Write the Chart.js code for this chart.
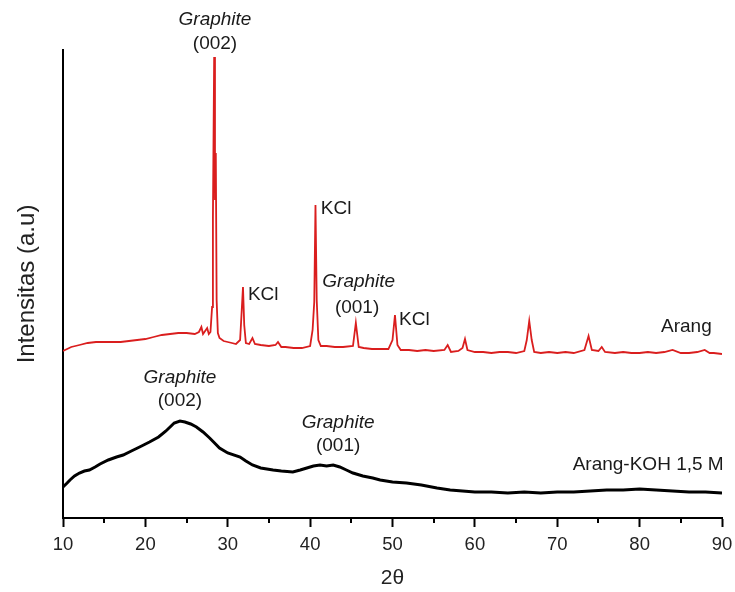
<!DOCTYPE html>
<html>
<head>
<meta charset="utf-8">
<script src="https://cdn.jsdelivr.net/npm/chart.js@4"></script>
<style>
  body { margin: 0; background: #fff; }
</style>
</head>
<body>
<canvas id="xrd" width="735" height="592"></canvas>
<script>
// Arang (red, offset trace)
const arangX = [10, 10.5, 11, 12, 13, 14, 15, 16, 17, 18, 19, 20, 21, 22, 23, 24, 25, 26, 26.5, 26.8, 27, 27.5, 27.7, 27.9,
  28.1, 28.2, 28.35, 28.45, 28.55, 28.65, 28.8, 29, 29.5, 30, 30.5, 31, 31.5, 31.7, 31.85, 32, 32.2, 32.6, 33, 33.3,
  34, 35, 35.8, 36.1, 36.5, 37, 38, 39, 40, 40.3, 40.5, 40.65, 40.8, 41, 41.3, 42, 43, 44, 45.2, 45.55, 45.9, 46.5,
  47.5, 48.5, 49.5, 50, 50.3, 50.6, 51, 52, 53, 54, 55, 56.3, 56.7, 57.1, 58, 58.5, 58.8, 59.1, 60, 61, 62, 63, 64,
  65, 66, 66.3, 66.6, 66.9, 67.2, 68, 69, 70, 71, 72, 73.3, 73.8, 74.2, 75, 75.4, 75.8, 77, 78, 79, 80, 81, 82, 83,
  84, 85, 86, 87, 87.9, 88.5, 89, 90];
const arangY = [167, 169, 171, 173, 175, 176, 176, 176, 176, 177, 178, 179, 181, 183, 184, 185, 185, 184, 186, 191, 184, 190, 184, 186,
  211, 300, 461, 318, 365, 218, 185, 180, 177, 176, 175, 174, 178, 208, 231, 193, 175, 174, 180, 174,
  173, 172, 173, 176, 171, 171, 170, 170, 172, 188, 216, 313, 218, 178, 172, 172, 171, 171, 172, 195, 171, 170,
  169, 169, 169, 178, 203, 173, 168, 168, 167, 168, 167, 168, 173, 166, 167, 170, 179, 168, 166, 166, 165, 166, 166,
  165, 167, 178, 197, 178, 166, 165, 166, 165, 166, 165, 168, 182, 168, 167, 171, 166, 165, 166, 165, 165, 166, 165, 166,
  168, 165, 165, 166, 168, 165, 165, 164];

// Arang-KOH 1,5 M (black trace)
const kohX = [10, 10.5, 10.85, 11.4, 12, 12.6, 13.2, 13.9, 14.5, 15.5, 16.5, 17.3, 18.3, 19.3, 20.5, 21.6, 22.5, 23.5,
  24.2, 24.8, 25.5, 26.2, 27, 27.8, 28.4, 29, 30, 31.5, 32.2, 33, 34, 35.5, 36.5, 37.9, 38.8, 39.6, 40.4, 41.2, 42,
  42.8, 43.6, 44.4, 45.2, 46.4, 47.6, 48.5, 50, 51.7, 53.5, 55.4, 57, 58.5, 60, 62, 64, 66, 68, 70, 72, 74, 76, 78,
  80, 82, 84, 86, 88, 90];
const kohY = [31, 35, 38, 42, 45, 47, 48, 51, 54, 58, 61, 63, 67, 71, 76, 81, 87, 95,
  97, 96, 94, 91, 86, 80, 75, 70, 65, 61, 57, 53, 50, 48, 47, 46, 48, 50, 52, 53, 52,
  53, 51, 48, 45, 42, 40, 38, 36, 35, 33, 30, 28, 27, 26, 26, 25, 26, 25, 26, 26, 27, 28, 28,
  29, 28, 27, 26, 26, 25];

const xTicks = [10, 20, 30, 40, 50, 60, 70, 80, 90];
const xMinorTicks = [15, 25, 35, 45, 55, 65, 75, 85];

// peak labels: [text, x, y, align, italic]
const peakLabels = [
  ['Graphite', 28.45, 498, 'center', true],
  ['(002)', 28.45, 474, 'center', false],
  ['KCl', 32.45, 223, 'left', false],
  ['KCl', 41.3, 309, 'left', false],
  ['Graphite', 45.9, 236, 'center', true],
  ['(001)', 45.7, 210, 'center', false],
  ['KCl', 50.8, 198, 'left', false],
  ['Arang', 88.75, 191, 'right', false],
  ['Graphite', 24.2, 140, 'center', true],
  ['(002)', 24.2, 117, 'center', false],
  ['Graphite', 43.4, 95, 'center', true],
  ['(001)', 43.4, 72, 'center', false],
  ['Arang-KOH 1,5 M', 90.2, 53, 'right', false]
];

const toPoints = (xs, ys) => xs.map((x, i) => ({ x: x, y: ys[i] }));

const extras = {
  id: 'extras',
  afterDraw(chart) {
    const ctx = chart.ctx;
    const xs = chart.scales.x, ys = chart.scales.y;
    ctx.save();
    // minor ticks
    ctx.strokeStyle = '#000';
    ctx.lineWidth = 2;
    const yb = ys.bottom;
    xMinorTicks.forEach(v => {
      const px = Math.round(xs.getPixelForValue(v));
      ctx.beginPath();
      ctx.moveTo(px, yb);
      ctx.lineTo(px, yb + 5);
      ctx.stroke();
    });
    // labels
    ctx.fillStyle = '#1a1a1a';
    ctx.textBaseline = 'middle';
    peakLabels.forEach(([t, x, y, align, it]) => {
      ctx.font = (it ? 'italic ' : '') + '19px "Liberation Sans", Arial, sans-serif';
      ctx.textAlign = align;
      ctx.fillText(t, xs.getPixelForValue(x), ys.getPixelForValue(y));
    });
    ctx.restore();
  }
};

new Chart(document.getElementById('xrd'), {
  type: 'line',
  data: {
    datasets: [
      {
        label: 'Arang',
        data: toPoints(arangX, arangY),
        borderColor: 'rgb(218, 30, 30)',
        borderWidth: 1.8,
        pointRadius: 0,
        tension: 0
      },
      {
        label: 'Arang-KOH 1,5 M',
        data: toPoints(kohX, kohY),
        borderColor: '#000',
        borderWidth: 3,
        pointRadius: 0,
        tension: 0
      }
    ]
  },
  options: {
    responsive: false,
    animation: false,
    layout: { padding: { top: 50, right: 13, left: 0, bottom: 0 } },
    plugins: { legend: { display: false }, tooltip: { enabled: false } },
    scales: {
      x: {
        type: 'linear',
        min: 10,
        max: 90,
        afterBuildTicks: s => { s.ticks = xTicks.map(v => ({ value: v })); },
        afterFit: s => { s.height = 74; s.paddingLeft = 0; s.paddingRight = 0; },
        grid: { display: true, drawOnChartArea: false, drawTicks: true, tickLength: 9, tickColor: '#000', tickWidth: 2 },
        border: { display: true, color: '#000', width: 2 },
        ticks: { color: '#222', font: { family: '"Liberation Sans", Arial, sans-serif', size: 18.5 }, padding: 7, maxRotation: 0 },
        title: { display: true, text: '2θ', color: '#222', font: { family: '"Liberation Sans", Arial, sans-serif', size: 21 }, padding: { top: 0, bottom: 1 } }
      },
      y: {
        min: 0,
        max: 468,
        afterFit: s => { s.width = 63; },
        grid: { display: false },
        border: { display: true, color: '#000', width: 2 },
        ticks: { display: false },
        title: { display: true, text: 'Intensitas (a.u)', color: '#222', font: { family: '"Liberation Sans", Arial, sans-serif', size: 24 }, padding: { top: 13, bottom: 0 } }
      }
    }
  },
  plugins: [extras]
});
</script>
</body>
</html>
